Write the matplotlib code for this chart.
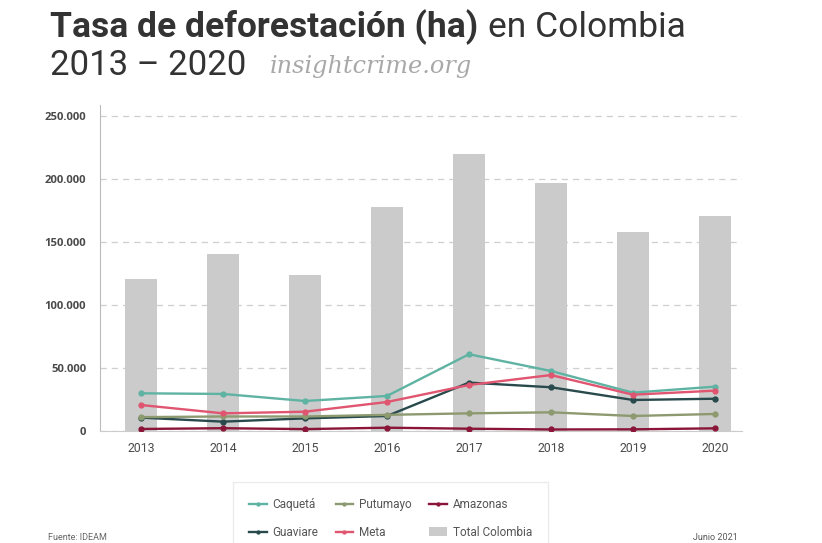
import numpy as np
import matplotlib
matplotlib.use('agg')
import matplotlib.pyplot as plt
from matplotlib.ticker import FuncFormatter

# data (ha)
years = ["2013", "2014", "2015", "2016", "2017", "2018", "2019", "2020"]
total_colombia = [120600, 140300, 123800, 178000, 219600, 196800, 158300, 170800]
caqueta = [29900, 29400, 23800, 27800, 60900, 47600, 30400, 35200]
guaviare = [10600, 7400, 10000, 11900, 38400, 34700, 24600, 25600]
putumayo = [11000, 11500, 11500, 12800, 14000, 14800, 11900, 13500]
meta = [20600, 14000, 15300, 23000, 36500, 44400, 28800, 32000]
amazonas = [1600, 2200, 1500, 2600, 1800, 1200, 1300, 2100]

colors = {
    "Caquetá": "#5fb3a3",
    "Guaviare": "#284a4c",
    "Putumayo": "#8d9a70",
    "Meta": "#e05570",
    "Amazonas": "#8a1538",
}

plt.rcParams['font.family'] = ['Roboto', 'DejaVu Sans']

fig = plt.figure(figsize=(8.22, 5.43), dpi=100)
ax = fig.add_axes([0.1217, 0.2063, 0.781, 0.6003])

x = np.arange(len(years))
bars = ax.bar(x, total_colombia, width=0.4, color="#cbcbcb", label="Total Colombia", zorder=2)

series = [("Caquetá", caqueta), ("Guaviare", guaviare), ("Putumayo", putumayo),
          ("Meta", meta), ("Amazonas", amazonas)]
lines = {}
for name, vals in series:
    lines[name], = ax.plot(x, vals, color=colors[name], lw=1.7, marker="o", ms=3.5,
                           label=name, zorder=3)

ax.set_xlim(-0.5, 7.33)
ax.set_ylim(0, 258700)
ax.set_yticks([0, 50000, 100000, 150000, 200000, 250000])
ax.yaxis.set_major_formatter(FuncFormatter(lambda v, p: "{:,.0f}".format(v).replace(",", ".")))
ax.set_xticks(x, labels=years)
ax.tick_params(axis="both", length=0, colors="#4a4a4a")
ax.tick_params(axis="y", pad=10, labelsize=8.1)
ax.tick_params(axis="x", pad=8, labelsize=8.8)
for lab in ax.get_yticklabels():
    lab.set_fontfamily("Open Sans")
    lab.set_fontweight("bold")
ax.grid(axis="y", color="#cfcfcf", linestyle=(0, (5, 4)), lw=0.9, zorder=0)
for s in ["top", "right"]:
    ax.spines[s].set_visible(False)
ax.spines["left"].set_color("#bbbbbb")
ax.spines["bottom"].set_color("#cccccc")

# title, pieces placed one after another
fig.canvas.draw()
renderer = fig.canvas.get_renderer()
inv = fig.transFigure.inverted()

t1 = fig.text(0.0608, 0.932, "Tasa de deforestación (ha)", fontsize=25.5, fontweight="bold", color="#333333")
bb = inv.transform(t1.get_window_extent(renderer))
fig.text(bb[1][0] + 0.012, 0.932, "en Colombia", fontsize=25.5, color="#333333")
t3 = fig.text(0.0608, 0.862, "2013 – 2020", fontsize=25, color="#333333")
bb = inv.transform(t3.get_window_extent(renderer))
fig.text(bb[1][0] + 0.028, 0.865, "insightcrime.org", fontsize=17.3, color="#a8a8a8",
         family="DejaVu Serif", style="italic")

# footer
fig.text(0.058, 0.006, "Fuente: IDEAM", fontsize=6.5, color="#666666")
fig.text(0.897, 0.006, "Junio 2021", fontsize=6.5, color="#555555", ha="right")

handles = [lines["Caquetá"], lines["Guaviare"], lines["Putumayo"], lines["Meta"],
           lines["Amazonas"], bars]
leg = fig.legend(handles=handles, labels=[h.get_label() for h in handles], ncol=3,
                 loc="upper left", bbox_to_anchor=(0.2835, 0.1123), borderaxespad=0,
                 fontsize=8.5, frameon=True, fancybox=False, edgecolor="#e6e6e6",
                 handlelength=1.5, markerscale=0.6, columnspacing=1.45, labelspacing=1.25,
                 borderpad=1.35, handletextpad=0.5)
for t in leg.get_texts():
    t.set_color("#555555")

fig.savefig("out.png", dpi=100)
